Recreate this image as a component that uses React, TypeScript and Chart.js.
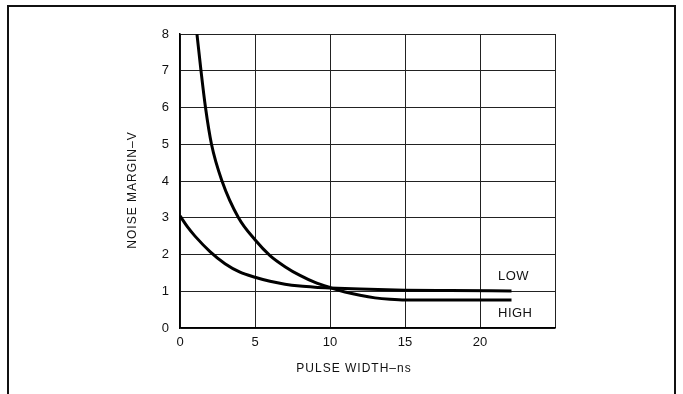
import React, { useEffect, useRef } from "react";
import { Chart, registerables } from "chart.js";

Chart.register(...registerables);

const xTicks = [0, 5, 10, 15, 20];
const yTicks = [0, 1, 2, 3, 4, 5, 6, 7, 8];

const highX = [1.13, 1.4, 1.7, 2.1, 2.8, 3.9, 5, 6, 7, 8, 9, 10, 11, 12, 13, 14, 15, 18, 22.1];
const highY = [8, 7, 6, 5, 4, 3, 2.4, 1.97, 1.67, 1.43, 1.24, 1.1, 0.98, 0.89, 0.82, 0.78, 0.76, 0.76, 0.76];

const lowX = [0, 0.5, 1, 2, 3, 4, 5, 6, 7, 8, 9, 10, 12, 15, 18, 22.1];
const lowY = [3.05, 2.75, 2.5, 2.08, 1.75, 1.52, 1.38, 1.27, 1.19, 1.14, 1.11, 1.09, 1.06, 1.03, 1.02, 1.01];

const curveLabels = [
  { text: "LOW", x: 21.2, y: 1.41 },
  { text: "HIGH", x: 21.2, y: 0.41 },
];

const xTitle = "PULSE WIDTH\u2013ns";
const yTitle = "NOISE MARGIN\u2013V";

const FONT = "'Liberation Sans', Arial, sans-serif";

const decorPlugin = {
  id: "decor",
  afterDraw(chart: any) {
    const ctx = chart.ctx;
    const xs = chart.scales.x;
    const ys = chart.scales.y;
    ctx.save();
    ctx.strokeStyle = "#111";
    ctx.lineWidth = 2;
    ctx.beginPath();
    ctx.moveTo(8, 394);
    ctx.lineTo(8, 6);
    ctx.lineTo(675, 6);
    ctx.lineTo(675, 394);
    ctx.stroke();

    ctx.fillStyle = "#111";
    ctx.font = `12px ${FONT}`;
    ctx.textAlign = "center";
    ctx.textBaseline = "middle";
    try { (ctx as any).letterSpacing = "1px"; } catch (e) {}
    ctx.fillText(xTitle, 354, 369);
    ctx.save();
    ctx.translate(133, 190);
    ctx.rotate(-Math.PI / 2);
    ctx.fillText(yTitle, 0, 0);
    ctx.restore();

    ctx.font = `13px ${FONT}`;
    ctx.textAlign = "left";
    try { (ctx as any).letterSpacing = "0.5px"; } catch (e) {}
    curveLabels.forEach((l) => {
      ctx.fillText(l.text, xs.getPixelForValue(l.x), ys.getPixelForValue(l.y));
    });
    ctx.restore();
  },
};

export default function App() {
  const ref = useRef<HTMLCanvasElement>(null);
  useEffect(() => {
    if (!ref.current) return;
    const mk = (xa: number[], ya: number[]) => xa.map((x, i) => ({ x, y: ya[i] }));
    const chart = new Chart(ref.current, {
      type: "line",
      data: {
        datasets: [
          {
            label: "HIGH",
            data: mk(highX, highY),
            borderColor: "#000",
            borderWidth: 3,
            pointRadius: 0,
            cubicInterpolationMode: "monotone",
            fill: false,
          },
          {
            label: "LOW",
            data: mk(lowX, lowY),
            borderColor: "#000",
            borderWidth: 3,
            pointRadius: 0,
            cubicInterpolationMode: "monotone",
            fill: false,
          },
        ],
      },
      options: {
        responsive: false,
        animation: false,
        layout: { padding: { left: 0, right: 128, top: 34, bottom: 0 } },
        plugins: { legend: { display: false }, tooltip: { enabled: false } },
        scales: {
          x: {
            type: "linear",
            min: 0,
            max: 25,
            afterFit: (s: any) => { s.height = 66; },
            afterBuildTicks: (s: any) => { s.ticks = [...xTicks, 25].map((v) => ({ value: v })); },
            ticks: {
              padding: 7,
              color: "#111",
              font: { family: FONT, size: 13 },
              callback: (v: any) => (xTicks.includes(Number(v)) ? String(v) : ""),
              maxRotation: 0,
              autoSkip: false,
            },
            grid: { color: "#222", lineWidth: 1, drawTicks: false },
            border: { color: "#000", width: 1.5 },
          },
          y: {
            type: "linear",
            min: 0,
            max: 8,
            afterFit: (s: any) => { s.width = 180; },
            afterBuildTicks: (s: any) => { s.ticks = yTicks.map((v) => ({ value: v })); },
            ticks: {
              padding: 11,
              color: "#111",
              font: { family: FONT, size: 13 },
              autoSkip: false,
            },
            grid: { color: "#222", lineWidth: 1, drawTicks: false },
            border: { color: "#000", width: 1.5 },
          },
        },
      },
      plugins: [decorPlugin],
    } as any);
    return () => chart.destroy();
  }, []);
  return (
    <div style={{ position: "absolute", left: 0, top: 0, width: 683, height: 394, background: "#fff" }}>
      <canvas ref={ref} width={683} height={394} style={{ display: "block" }} />
    </div>
  );
}
